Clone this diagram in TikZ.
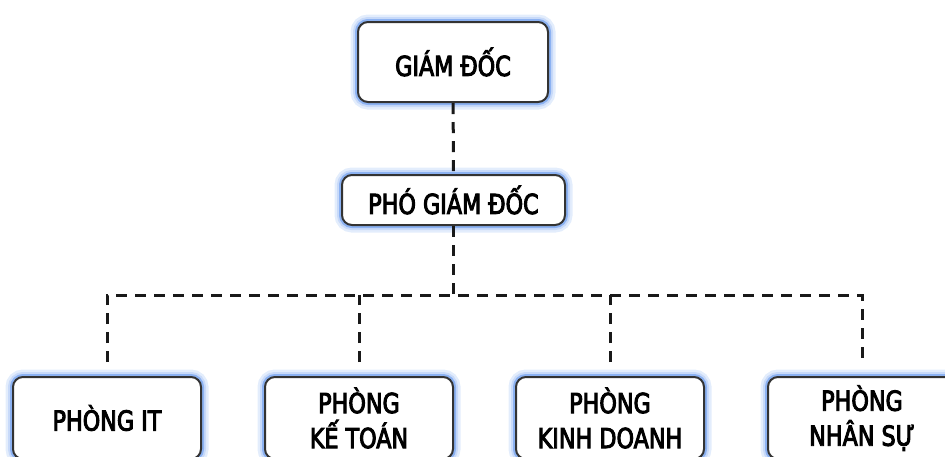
\documentclass[tikz,border=0pt]{standalone}
\usepackage{fontspec}
\setmainfont[FakeStretch=0.9, FakeBold=3.5]{DejaVu Sans Condensed}
\usepackage{xcolor}
\usepackage{tikz}
\usetikzlibrary{positioning}

\definecolor{glowblue}{RGB}{120,165,240}

\tikzset{
    box/.style={draw=black!80, line width=2pt, rounded corners=10pt, fill=white,
        align=center, inner sep=0pt, font=\fontsize{27.5}{35}\selectfont,
        preaction={draw=glowblue!45, line width=15pt, opacity=0.45},
        preaction={draw=glowblue!55, line width=10pt, opacity=0.6},
        preaction={draw=glowblue!85, line width=6pt}},
    dept/.style={box, minimum width=188pt, minimum height=82pt},
    link/.style={draw=black!90, line width=3pt, dash pattern=on 11pt off 8pt}
}

\begin{document}
\begin{tikzpicture}[x=1pt, y=-1pt]
        \useasboundingbox (0,0) rectangle (945,456);

        % ban giam doc
        \node[box, minimum width=190pt, minimum height=80pt] (gd) at (453,62) {GIÁM ĐỐC};
        \node[box, minimum width=223pt, minimum height=50pt] (pgd) at (453.5,200) {PHÓ GIÁM ĐỐC};

        % cac phong
        \node[dept] (it) at (107,418) {PHÒNG IT};
        \node[dept] (kt) at (359,418) {PHÒNG\\KẾ TOÁN};
        \node[dept] (kd) at (610,418) {PHÒNG\\KINH DOANH};
        \node[dept] (ns) at (862,418) {PHÒNG\\NHÂN SỰ};

        \coordinate (bus) at (pgd.south |- 0,295);

        \draw[link] (gd) -- (pgd);
        \draw[link] (pgd) -- (bus);
        \draw[link, shorten <=14pt, shorten >=14pt] (it.north) |- (bus) -| (ns.north);
        \draw[link, shorten <=14pt] (kt.north) -- (kt.north |- bus);
        \draw[link, shorten <=14pt] (kd.north) -- (kd.north |- bus);
    \end{tikzpicture}
\end{document}
